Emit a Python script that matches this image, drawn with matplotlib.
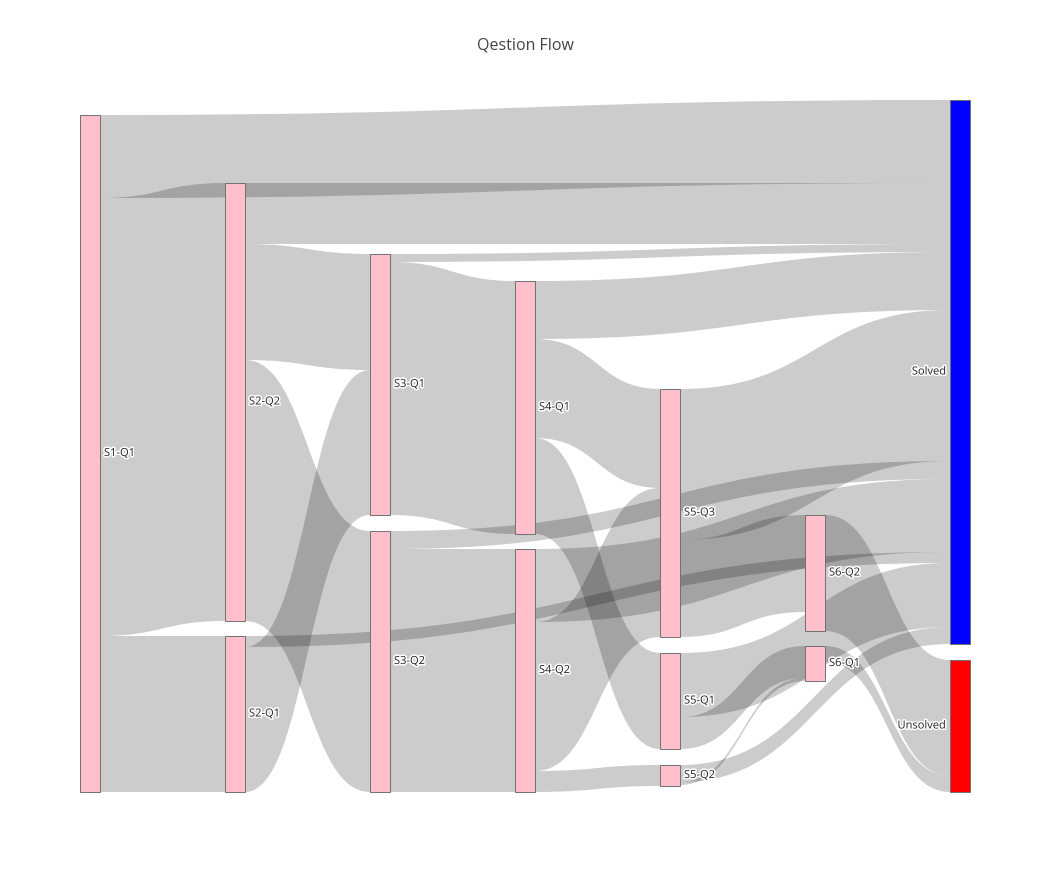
import matplotlib.pyplot as plt
import matplotlib.patheffects as pe
from matplotlib.path import Path
from matplotlib.patches import PathPatch, Rectangle

# nodes
labels = ["S1-Q1", "S2-Q2", "S2-Q1", "S3-Q1", "S3-Q2", "S4-Q1", "S4-Q2",
          "S5-Q3", "S5-Q1", "S5-Q2", "S6-Q2", "S6-Q1", "Solved", "Unsolved"]
node_colors = ["pink"] * 12 + ["blue", "red"]

# links (source index, target index, value)
source = [0, 0, 0, 1, 1, 1, 2, 2, 3, 3, 4, 4, 5, 5, 5, 6, 6, 6,
          7, 7, 8, 8, 9, 9, 10, 11]
target = [12, 1, 2, 12, 3, 4, 12, 3, 12, 5, 12, 6, 12, 7, 8, 12, 7, 9,
          12, 10, 12, 11, 12, 11, 13, 13]
value = [83, 438, 156, 61, 116, 261, 11, 145, 8, 253, 18, 243, 58, 99, 96, 73, 149, 21,
         151, 97, 64, 32, 17, 3, 116, 16]

# arrangement (like plotly node x / y): column and top offset inside the plot area
node_col = [0, 1, 1, 2, 2, 3, 3, 4, 4, 4, 5, 5, 6, 6]
node_top = [15, 83, 536, 154, 431, 181, 449, 289, 553, 665, 415, 546, 0, 560]

W, H = 1050, 872
left, top = 80, 100
col_step = 145
node_w = 20
scale = 1.0  # pixels per unit

fig = plt.figure(figsize=(W / 100, H / 100), dpi=100)
ax = fig.add_axes([0, 0, 1, 1])
ax.set_xlim(0, W)
ax.set_ylim(H, 0)
ax.axis("off")

n = len(labels)
tot_in = [0] * n
tot_out = [0] * n
for s, t, v in zip(source, target, value):
    tot_out[s] += v
    tot_in[t] += v
size = [max(a, b) * scale for a, b in zip(tot_in, tot_out)]
x0 = [left + c * col_step for c in node_col]
y0 = [top + y for y in node_top]

# stack link ends like d3-sankey: outgoing sorted by target y, incoming by source y
idx = list(range(len(value)))
ys = [0] * len(value)
yt = [0] * len(value)
for k in range(n):
    outs = sorted([i for i in idx if source[i] == k], key=lambda i: (y0[target[i]], i))
    y = y0[k]
    for i in outs:
        ys[i] = y
        y += value[i] * scale
    ins = sorted([i for i in idx if target[i] == k], key=lambda i: (y0[source[i]], i))
    y = y0[k]
    for i in ins:
        yt[i] = y
        y += value[i] * scale

for i in idx:
    xa = x0[source[i]] + node_w
    xb = x0[target[i]]
    xm = (xa + xb) / 2
    w = value[i] * scale
    verts = [(xa, ys[i]), (xm, ys[i]), (xm, yt[i]), (xb, yt[i]),
             (xb, yt[i] + w),
             (xm, yt[i] + w), (xm, ys[i] + w), (xa, ys[i] + w),
             (xa, ys[i])]
    codes = [Path.MOVETO, Path.CURVE4, Path.CURVE4, Path.CURVE4,
             Path.LINETO,
             Path.CURVE4, Path.CURVE4, Path.CURVE4,
             Path.CLOSEPOLY]
    ax.add_patch(PathPatch(Path(verts, codes), facecolor=(0, 0, 0, 0.2), lw=0))

halo = [pe.withStroke(linewidth=2.2, foreground="white")]
last_col = max(node_col)
for k in range(n):
    ax.add_patch(Rectangle((x0[k], y0[k]), node_w, size[k], facecolor=node_colors[k],
                           edgecolor="#707070", lw=0.7))
    yc = y0[k] + size[k] / 2
    if node_col[k] == last_col:
        ax.text(x0[k] - 4, yc, labels[k], ha="right", va="center", fontsize=8,
                family="Open Sans", color="#222222", path_effects=halo)
    else:
        ax.text(x0[k] + node_w + 4, yc, labels[k], ha="left", va="center", fontsize=8,
                family="Open Sans", color="#222222", path_effects=halo)

fig.text(0.5, 1 - 45 / H, "Qestion Flow", ha="center", va="center", fontsize=11.5,
         family="Open Sans", color="#444444")

fig.savefig("out.png", dpi=100)
